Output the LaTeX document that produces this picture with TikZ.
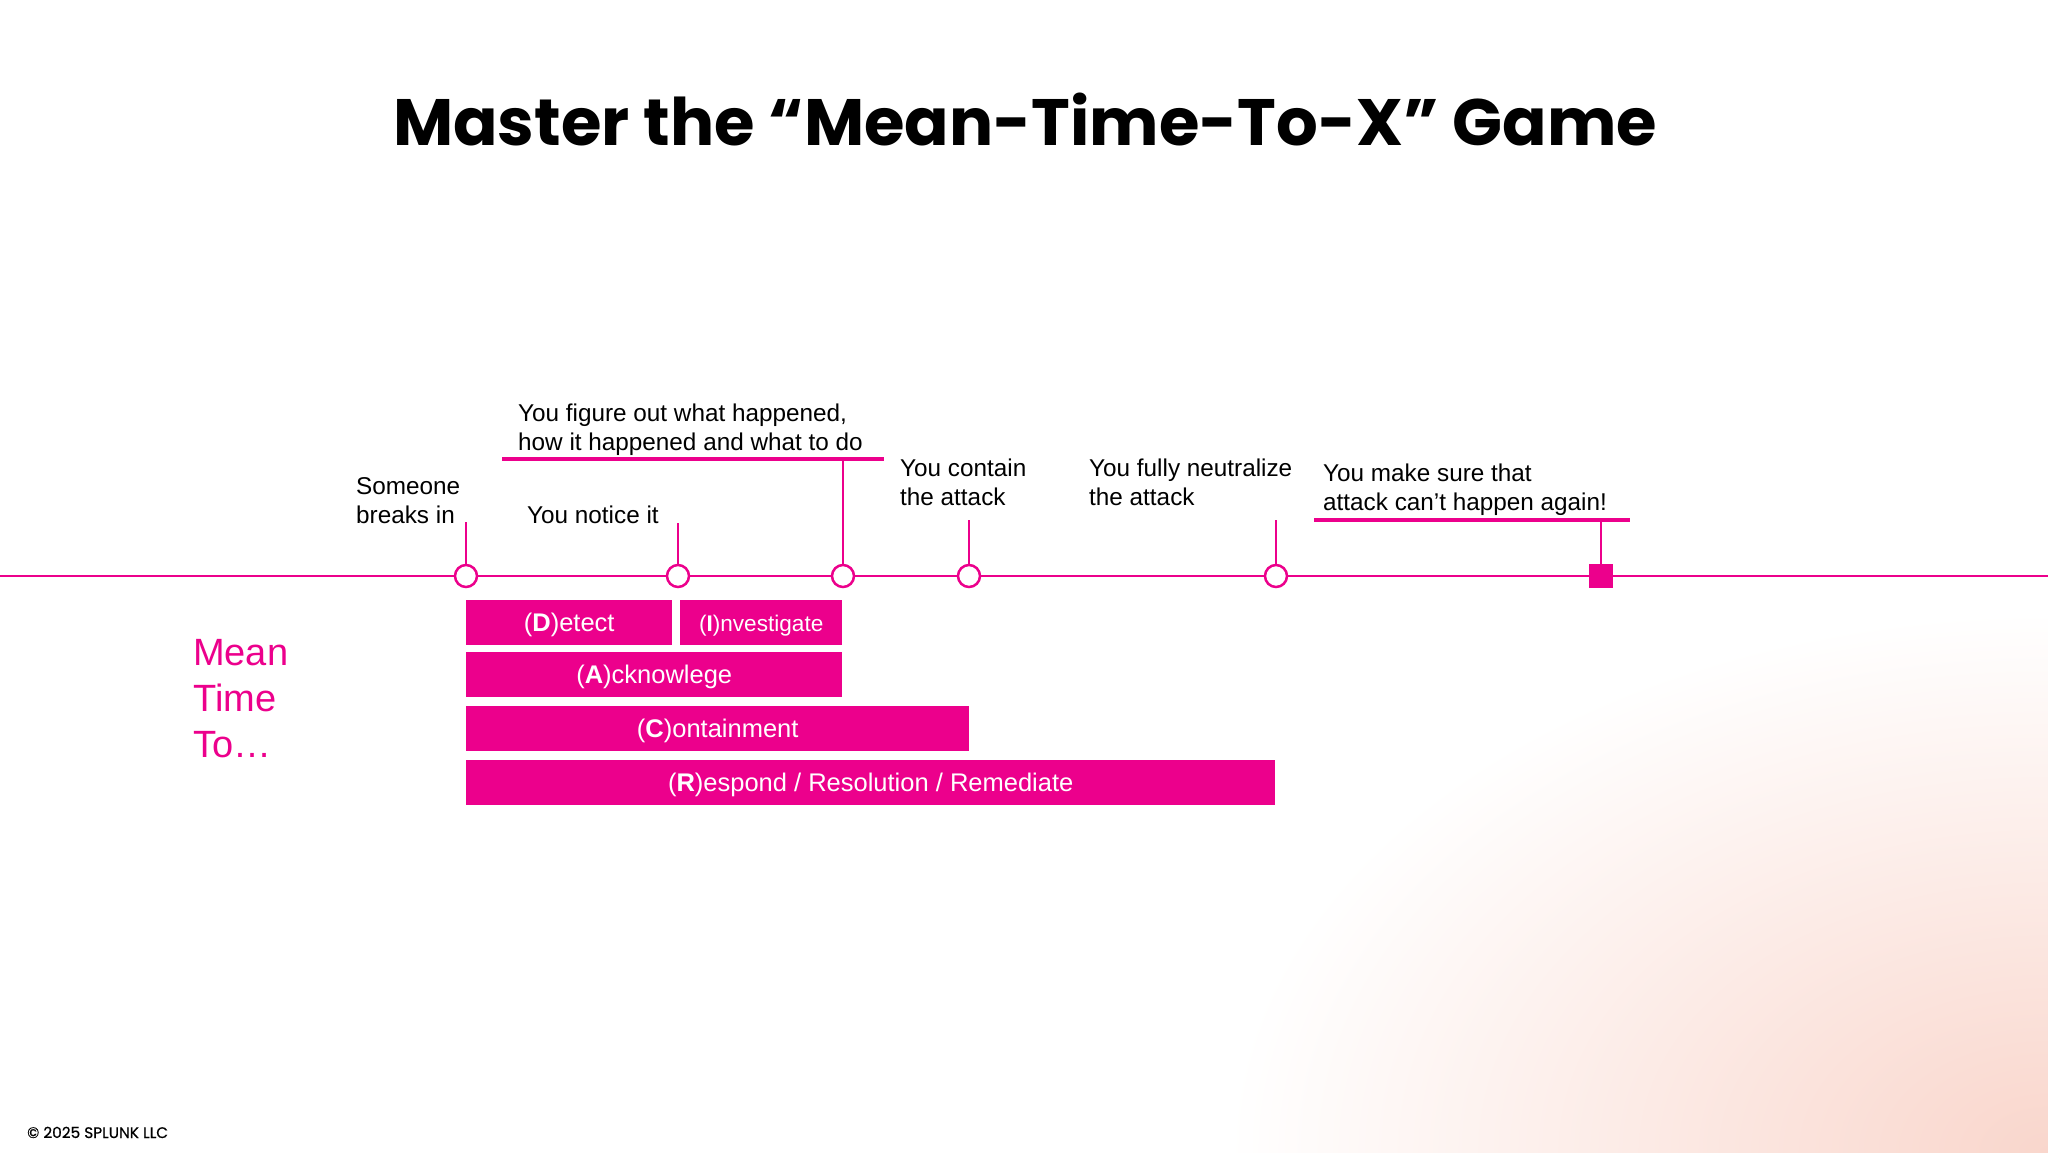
\documentclass[tikz,border=0pt]{standalone}
\usepackage{fontspec}
\setmainfont{Liberation Sans}
\newfontfamily\popfont{Poppins}
\newfontfamily\popmed{Poppins}[FakeBold=0.6]
\definecolor{mag}{RGB}{236,0,140}
\definecolor{peach}{RGB}{249,214,204}
\begin{document}
\begin{tikzpicture}[x=1pt,y=-1pt,
  ann/.style={anchor=base west, inner sep=0pt, align=left, font=\fontsize{24.3}{28.6}\selectfont, text=black},
  bar/.style={fill=mag, text=white, inner sep=0pt, anchor=north west, minimum height=45pt, text height=19pt, text depth=0.6pt, font=\fontsize{25.5}{28}\selectfont},
  evt/.style={circle, draw=mag, line width=2.5pt, fill=white, minimum size=22pt, inner sep=0pt},
  tickln/.style={draw=mag, line width=1.8pt},
  uline/.style={draw=mag, line width=3.3pt},
]
\useasboundingbox (0,0) rectangle (2048,1152);
\fill[white] (0,0) rectangle (2048,1152);
\begin{scope}
  \clip (0,0) rectangle (2048,1152);
  \shade[inner color=peach, outer color=white] (2048,1152) ellipse (820 and 540);
\end{scope}

% title
\node[font=\popfont\bfseries\fontsize{65.6}{70}\selectfont, anchor=base] (title) at (1025,145) {Master the “Mean-Time-To-X” Game};

% timeline
\coordinate (L) at (0,576);
\coordinate (R) at (2048,576);
\draw[mag, line width=2.7pt] (L) -- (R);

\node[evt] (t1) at (466,576) {};
\node[evt] (t2) at (678,576) {};
\node[evt] (t3) at (843,576) {};
\node[evt] (t4) at (969,576) {};
\node[evt] (t5) at (1276,576) {};
\node[fill=mag, minimum size=24pt, inner sep=0pt] (t6) at (1601,576) {};

% ticks and underlines
\coordinate (k1) at (466,522);
\coordinate (k2) at (678,523);
\coordinate (k4) at (969,520);
\coordinate (k5) at (1276,520);
\coordinate (u1a) at (502,459);
\coordinate (u1b) at (884,459);
\coordinate (u2a) at (1314,520);
\coordinate (u2b) at (1630,520);
\draw[tickln] (t1) -- (k1);
\draw[tickln] (t2) -- (k2);
\draw[tickln] (t4) -- (k4);
\draw[tickln] (t5) -- (k5);
\draw[tickln] (t3) -- (t3 |- u1a);
\draw[tickln] (t6) -- (t6 |- u2a);
\draw[uline] (u1a) -- (u1b);
\draw[uline] (u2a) -- (u2b);

% annotations (anchor = baseline of last line)
\node[ann] (a1) at (356,523) {Someone\\breaks in};
\node[ann] (a2) at (527,523) {You notice it};
\node[ann] (a3) at (518,450) {You figure out what happened,\\how it happened and what to do};
\node[ann] (a4) at (900,505) {You contain\\the attack};
\node[ann] (a5) at (1089,505) {You fully neutralize\\the attack};
\node[ann] (a6) at (1323,510) {You make sure that\\attack can’t happen again!};

% bars
\node[bar, minimum width=206pt] (bD) at (466,600) {(\textbf{D})etect};
\node[bar, minimum width=162pt, text height=17.5pt, font=\fontsize{22.6}{26}\selectfont] (bI) at (680,600) {(\textbf{I})nvestigate};
\node[bar, minimum width=376pt] (bA) at (466,652) {(\textbf{A})cknowlege};
\node[bar, minimum width=503pt] (bC) at (466,706) {(\textbf{C})ontainment};
\node[bar, minimum width=809pt] (bR) at (466,760) {(\textbf{R})espond / Resolution / Remediate};

% mean time to
\node[anchor=base west, inner sep=0pt, align=left, text=mag, font=\fontsize{38}{46}\selectfont] (mt) at (193,757) {Mean\\Time\\To…};

% copyright
\node[anchor=base west, inner sep=0pt, font=\popmed\fontsize{15.3}{17}\selectfont] (copy) at (27,1138) {© 2025 SPLUNK LLC};
\end{tikzpicture}
\end{document}
